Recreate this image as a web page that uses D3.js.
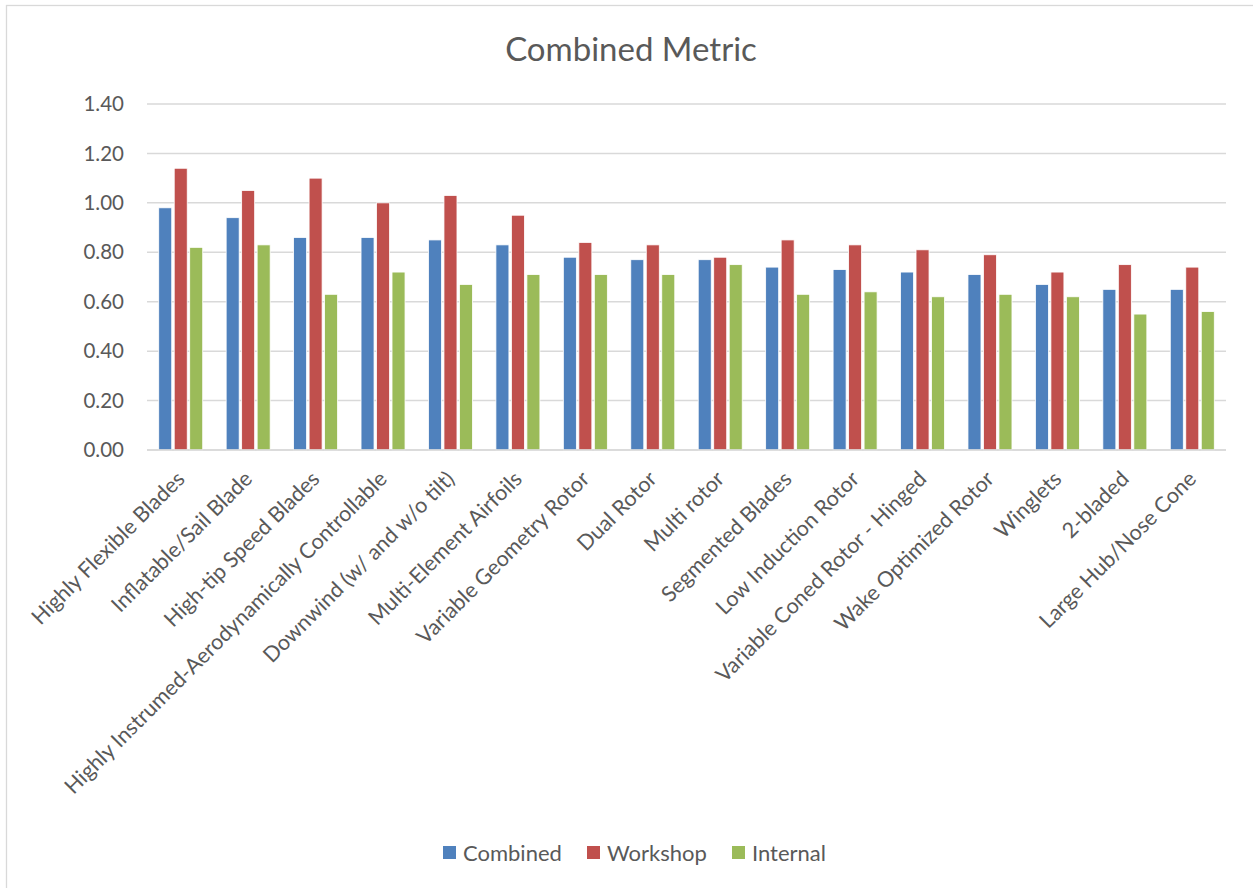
<!DOCTYPE html>
<html>
<head>
<meta charset="utf-8">
<script src="https://cdn.jsdelivr.net/npm/d3@7"></script>
<style>
  html, body { margin: 0; padding: 0; background: #fff; }
  text { font-family: Lato, "Open Sans", sans-serif; fill: #595959; }
</style>
</head>
<body>
<div id="chart"></div>
<script>
// Chart data
const categories = [
  "Highly Flexible Blades",
  "Inflatable/Sail Blade",
  "High-tip Speed Blades",
  "Highly Instrumed-Aerodynamically Controllable",
  "Downwind (w/ and w/o tilt)",
  "Multi-Element Airfoils",
  "Variable Geometry Rotor",
  "Dual Rotor",
  "Multi rotor",
  "Segmented Blades",
  "Low Induction Rotor",
  "Variable Coned Rotor - Hinged",
  "Wake Optimized Rotor",
  "Winglets",
  "2-bladed",
  "Large Hub/Nose Cone"
];
const seriesNames = ["Combined", "Workshop", "Internal"];
const combined = [0.98, 0.94, 0.86, 0.86, 0.85, 0.83, 0.78, 0.77, 0.77, 0.74, 0.73, 0.72, 0.71, 0.67, 0.65, 0.65];
const workshop = [1.14, 1.05, 1.10, 1.00, 1.03, 0.95, 0.84, 0.83, 0.78, 0.85, 0.83, 0.81, 0.79, 0.72, 0.75, 0.74];
const internal = [0.82, 0.83, 0.63, 0.72, 0.67, 0.71, 0.71, 0.71, 0.75, 0.63, 0.64, 0.62, 0.63, 0.62, 0.55, 0.56];
const yTicks = [0, 0.2, 0.4, 0.6, 0.8, 1.0, 1.2, 1.4];
const colors = ["#4f81bd", "#c0504d", "#9bbb59"];

const width = 1253, height = 888;
const plot = { left: 147, right: 1226, top: 104, bottom: 450 };

const svg = d3.select("#chart").append("svg")
  .attr("width", width)
  .attr("height", height);

// chart border
svg.append("rect")
  .attr("x", 6.5).attr("y", 5.5)
  .attr("width", width + 10).attr("height", height + 10)
  .attr("fill", "none")
  .attr("stroke", "#d9d9d9")
  .attr("stroke-width", 1.3);

const x = d3.scaleBand().domain(categories).range([plot.left, plot.right]);
const x1 = d3.scaleBand().domain(seriesNames).range([-22, 22]).paddingInner(0.16);
const y = d3.scaleLinear().domain([0, 1.4]).range([plot.bottom, plot.top]);

// gridlines
svg.append("g")
  .selectAll("line")
  .data(yTicks)
  .join("line")
  .attr("x1", plot.left).attr("x2", plot.right)
  .attr("y1", (d) => y(d)).attr("y2", (d) => y(d))
  .attr("stroke", "#d9d9d9")
  .attr("stroke-width", 1.5);

// y axis labels
svg.append("g")
  .selectAll("text")
  .data(yTicks)
  .join("text")
  .attr("x", 124)
  .attr("y", (d) => y(d))
  .attr("dy", "0.35em")
  .attr("text-anchor", "end")
  .attr("font-size", 20.5)
  .text((d) => d.toFixed(2));

// bars
const rows = categories.map((c, i) => ({
  cat: c,
  values: [combined[i], workshop[i], internal[i]]
}));

const groups = svg.append("g")
  .selectAll("g")
  .data(rows)
  .join("g")
  .attr("transform", (d) => `translate(${x(d.cat) + x.bandwidth() / 2},0)`);

groups.selectAll("rect")
  .data((d) => d.values.map((v, k) => ({ name: seriesNames[k], v, k })))
  .join("rect")
  .attr("x", (d) => x1(d.name))
  .attr("y", (d) => y(d.v))
  .attr("width", x1.bandwidth())
  .attr("height", (d) => y(0) - y(d.v))
  .attr("fill", (d) => colors[d.k])
  .attr("stroke", "#fff")
  .attr("stroke-width", 0.8);

// baseline
svg.append("line")
  .attr("x1", plot.left).attr("x2", plot.right)
  .attr("y1", y(0)).attr("y2", y(0))
  .attr("stroke", "#d9d9d9")
  .attr("stroke-width", 1.5);

// category labels, rotated
svg.append("g")
  .selectAll("text")
  .data(categories)
  .join("text")
  .attr("transform", (d) => `translate(${x(d) + x.bandwidth() / 2},${plot.bottom + 25}) rotate(-45)`)
  .attr("text-anchor", "end")
  .attr("dy", "0.35em")
  .attr("font-size", 21.5)
  .text((d) => d);

// title
svg.append("text")
  .attr("x", 631)
  .attr("y", 61)
  .attr("text-anchor", "middle")
  .attr("font-size", 33)
  .text("Combined Metric");

// legend
const legendX = [443, 587, 732];
const legend = svg.append("g")
  .selectAll("g")
  .data(seriesNames)
  .join("g")
  .attr("transform", (d, i) => `translate(${legendX[i]},846)`);

legend.append("rect")
  .attr("width", 13).attr("height", 13)
  .attr("fill", (d, i) => colors[i]);

legend.append("text")
  .attr("x", 20)
  .attr("y", 7)
  .attr("dy", "0.36em")
  .attr("font-size", 22)
  .text((d) => d);
</script>
</body>
</html>
